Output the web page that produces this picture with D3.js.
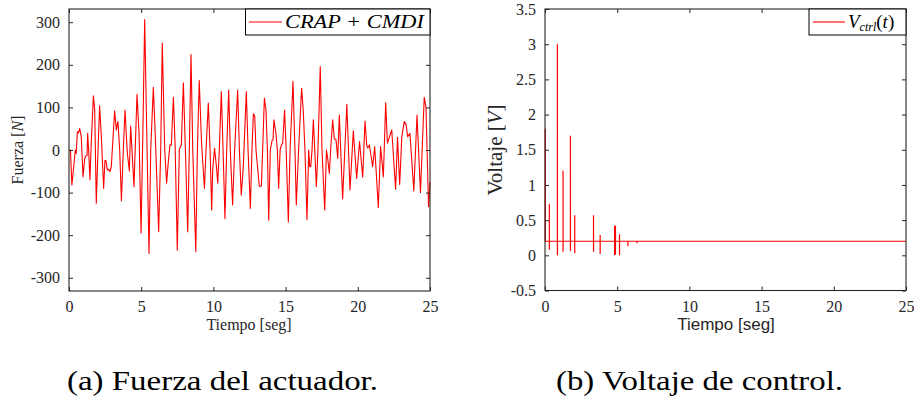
<!DOCTYPE html>
<html>
<head>
<meta charset="utf-8">
<script src="https://cdn.jsdelivr.net/npm/d3@7"></script>
<style>
	body { margin: 0; background: #fff; }
	svg { display: block; }
</style>
</head>
<body>
<svg id="chart" width="914" height="402"></svg>
<script>
// ---- data ----
// (a) actuator force [N] vs time [s]
var forceT = [0, 0.1, 0.2, 0.44, 0.5, 0.58, 0.66, 0.74, 0.85, 0.97, 1.09, 1.18, 1.25, 1.29, 1.36, 1.45, 1.54, 1.69, 1.78, 1.89,
	2.01, 2.12, 2.24, 2.40, 2.49, 2.56, 2.65, 2.75, 2.84, 2.93, 3.16, 3.28, 3.39, 3.51, 3.63, 3.76, 3.88, 3.97, 4.05, 4.18,
	4.27, 4.50, 4.71, 4.85, 4.99, 5.12, 5.24, 5.38, 5.54, 5.66, 5.84, 5.98, 6.21, 6.35, 6.46, 6.63, 6.76, 6.86, 6.99, 7.09,
	7.23, 7.35, 7.50, 7.64, 7.71, 7.78, 7.92, 8.06, 8.22, 8.34, 8.45, 8.57, 8.78, 8.89, 9.02, 9.18, 9.38, 9.49, 9.65, 9.77,
	9.88, 9.95, 10.08, 10.21, 10.30, 10.41, 10.55, 10.67, 10.80, 10.92, 11.06, 11.17, 11.33, 11.47, 11.68, 11.80, 11.93, 12.07, 12.28, 12.40,
	12.56, 12.67, 12.77, 12.86, 12.95, 13.18, 13.32, 13.41, 13.53, 13.64, 13.74, 13.83, 13.94, 14.06, 14.13, 14.19, 14.33, 14.43, 14.52, 14.62,
	14.71, 14.80, 14.93, 15.04, 15.19, 15.31, 15.51, 15.65, 15.74, 15.90, 16.11, 16.22, 16.34, 16.48, 16.60, 16.67, 16.74, 16.83, 16.92, 17.02,
	17.13, 17.24, 17.40, 17.52, 17.71, 17.83, 17.93, 18.03, 18.12, 18.26, 18.37, 18.49, 18.61, 18.72, 18.95, 19.24, 19.46, 19.69, 19.92, 20.12,
	20.34, 20.50, 20.62, 20.70, 20.80, 20.90, 21.03, 21.17, 21.42, 21.58, 21.77, 21.93, 22.05, 22.35, 22.62, 22.75, 22.90, 23.05, 23.22, 23.35,
	23.45, 23.61, 23.88, 24.10, 24.34, 24.60, 24.72, 24.90, 25];
var forceV = [0, 0, -82, 0, -8, 43, 40, 51, 31, -63, -20, -13, -13, 39, 0, -70, 16, 127, 94, -125,
	0, 104, 31, -90, -24, -25, -47, -45, -51, -39, 92, 47, 67, 0, -119, 0, 94, 35, -10, -50,
	56, -86, 131, 40, -195, 50, 306, 50, -243, 0, 147, 30, -192, 0, 251, 0, -78, -35, 12, 12,
	124, 10, -235, 0, 8, 12, 158, 0, -192, 16, 224, 0, -239, 0, 163, 16, -90, 0, 110, 0,
	-141, -47, 4, -39, -78, 0, 137, 0, -161, 0, 141, 0, -129, 0, 141, 0, -106, -39, 137, 0,
	-137, 0, 85, 80, 0, -85, -85, 0, 122, 94, 0, -165, 0, 22, 24, 71, 39, 0, -90, 0,
	12, 16, 94, 0, -169, 0, 161, 0, -129, 0, 145, 94, 0, -163, 0, -39, -39, 0, 71, 0,
	-86, 0, 196, 0, -141, 0, -24, -55, 0, 71, 27, 24, -20, 82, -115, 107, -94, 45, -67, 20,
	-64, 68, 10, 5, 12, -10, -39, 8, -135, 8, -63, 111, 16, 47, -92, 30, -81, 32, 67, 59,
	31, 39, -96, 82, -100, 124, 100, -133, -75];

// (b) control voltage [V]: constant level with short spikes (top / bottom of each spike)
var vBase = 0.2;
var spikeT  = [0.02, 0.30, 0.86, 1.25, 1.76, 2.06, 3.36, 3.82, 4.82, 4.88, 5.16, 5.74, 6.37];
var spikeHi = [1.80, 0.73, 3.00, 1.20, 1.70, 0.57, 0.57, 0.29, 0.42, 0.42, 0.30, 0.20, 0.20];
var spikeLo = [0.22, 0.08, 0.00, 0.05, 0.06, 0.03, 0.05, 0.02, 0.00, 0.01, 0.00, 0.13, 0.17];

var xTicks = [0, 5, 10, 15, 20, 25];
var forceTicks = [-300, -200, -100, 0, 100, 200, 300];
var voltTicks = [-0.5, 0, 0.5, 1, 1.5, 2, 2.5, 3, 3.5];

// ---- layout ----
var svg = d3.select("#chart");
var serif = "Liberation Serif";
var sans = "Liberation Sans";
var axisCol = "#262626";

// plain hyphen instead of the unicode minus d3 uses
function hy(f) { return function(d) { return f(d).replace("\u2212", "-"); }; }

function drawBox(g, x, y, ticksX, ticksY, fmtY) {
	var x0 = x.range()[0], x1 = x.range()[1];
	var y0 = y.range()[1], y1 = y.range()[0];
	var tl = 4;

	// ticks on all four sides, pointing in
	var bottom = g.append("g").attr("transform", "translate(0," + y1 + ")")
		.call(d3.axisBottom(x).tickValues(ticksX).tickSize(-tl).tickPadding(10).tickFormat(d3.format("d")));
	var top = g.append("g").attr("transform", "translate(0," + y0 + ")")
		.call(d3.axisTop(x).tickValues(ticksX).tickSize(-tl).tickFormat(""));
	var left = g.append("g").attr("transform", "translate(" + x0 + ",0)")
		.call(d3.axisLeft(y).tickValues(ticksY).tickSize(-tl).tickPadding(9).tickFormat(fmtY));
	var right = g.append("g").attr("transform", "translate(" + x1 + ",0)")
		.call(d3.axisRight(y).tickValues(ticksY).tickSize(-tl).tickFormat(""));

	[bottom, top, left, right].forEach(function(a) {
		a.attr("font-family", serif).attr("font-size", 16);
		a.select(".domain").remove();
		a.selectAll("line").attr("stroke", axisCol).attr("stroke-width", 1);
		a.selectAll("text").attr("fill", axisCol);
	});

	g.append("rect")
		.attr("x", x0).attr("y", y0)
		.attr("width", x1 - x0).attr("height", y1 - y0)
		.attr("fill", "none")
		.attr("stroke", axisCol)
		.attr("stroke-width", 1.1);
}

// ======== (a) Fuerza ========
var xa = d3.scaleLinear().domain([0, 25]).range([69, 430]);
var ya = d3.scaleLinear().domain([-331, 331]).range([291, 9]);
var ga = svg.append("g");

var forceData = forceT.map(function(t, i) { return [t, forceV[i]]; });
ga.append("path")
	.datum(forceData)
	.attr("fill", "none")
	.attr("stroke", "#ff0000")
	.attr("stroke-width", 1.1)
	.attr("stroke-linejoin", "round")
	.attr("d", d3.line().x(function(d) { return xa(d[0]); }).y(function(d) { return ya(d[1]); }));

drawBox(ga, xa, ya, xTicks, forceTicks, hy(d3.format("d")));

// axis labels
var lblA = ga.append("text")
	.attr("transform", "translate(23,150) rotate(-90)")
	.attr("text-anchor", "middle")
	.attr("font-family", serif).attr("font-size", 16).attr("fill", axisCol);
lblA.append("tspan").text("Fuerza [");
lblA.append("tspan").attr("font-style", "italic").text("N");
lblA.append("tspan").text("]");

ga.append("text")
	.attr("x", 249).attr("y", 330)
	.attr("text-anchor", "middle")
	.attr("font-family", serif).attr("font-size", 16).attr("fill", axisCol)
	.text("Tiempo [seg]");

// legend
ga.append("rect")
	.attr("x", 245.5).attr("y", 9)
	.attr("width", 430 - 245.5).attr("height", 26)
	.attr("fill", "#fff").attr("stroke", "#000").attr("stroke-width", 1);
ga.append("line")
	.attr("x1", 249).attr("x2", 282).attr("y1", 22).attr("y2", 22)
	.attr("stroke", "#ff0000").attr("stroke-width", 1.1);
ga.append("text")
	.attr("x", 285).attr("y", 28)
	.attr("font-family", serif).attr("font-size", 19).attr("font-style", "italic")
	.attr("textLength", 139).attr("lengthAdjust", "spacingAndGlyphs")
	.text("CRAP + CMDI");

// ======== (b) Voltaje ========
var xb = d3.scaleLinear().domain([0, 25]).range([545, 906]);
var yb = d3.scaleLinear().domain([-0.5, 3.5]).range([290.5, 9]);
var gb = svg.append("g");

// build the sampled signal: base level, jump to the top, drop to the bottom, back to base
var voltData = [[0, vBase]];
spikeT.forEach(function(t, i) {
	voltData.push([t, vBase]);
	voltData.push([t, spikeHi[i]]);
	voltData.push([t + 0.001, spikeLo[i]]);
	voltData.push([t + 0.002, vBase]);
});
voltData.push([25, vBase]);

gb.append("path")
	.datum(voltData)
	.attr("fill", "none")
	.attr("stroke", "#ff0000")
	.attr("stroke-width", 1.2)
	.attr("d", d3.line().x(function(d) { return xb(d[0]); }).y(function(d) { return yb(d[1]); }));

drawBox(gb, xb, yb, xTicks, voltTicks, hy(d3.format("")));

var lblB = gb.append("text")
	.attr("transform", "translate(502,150) rotate(-90)")
	.attr("text-anchor", "middle")
	.attr("font-family", serif).attr("font-size", 21).attr("fill", axisCol);
lblB.append("tspan").text("Voltaje [");
lblB.append("tspan").attr("font-style", "italic").text("V");
lblB.append("tspan").text("]");

gb.append("text")
	.attr("x", 726).attr("y", 330)
	.attr("text-anchor", "middle")
	.attr("font-family", sans).attr("font-size", 17).attr("fill", axisCol)
	.text("Tiempo [seg]");

gb.append("rect")
	.attr("x", 809).attr("y", 9)
	.attr("width", 906 - 809).attr("height", 26)
	.attr("fill", "#fff").attr("stroke", "#000").attr("stroke-width", 1);
gb.append("line")
	.attr("x1", 813).attr("x2", 845).attr("y1", 22).attr("y2", 22)
	.attr("stroke", "#ff0000").attr("stroke-width", 1.1);
var lg = gb.append("text")
	.attr("x", 848).attr("y", 28)
	.attr("font-family", serif).attr("font-size", 19);
lg.append("tspan").attr("font-style", "italic").text("V");
lg.append("tspan").attr("font-style", "italic").attr("font-size", 12).attr("dy", 3).text("ctrl");
lg.append("tspan").attr("dy", -3).text("(");
lg.append("tspan").attr("font-style", "italic").text("t");
lg.append("tspan").text(")");

// ======== captions ========
svg.append("text")
	.attr("x", 67).attr("y", 390)
	.attr("font-family", serif).attr("font-size", 28)
	.attr("textLength", 311).attr("lengthAdjust", "spacingAndGlyphs")
	.text("(a) Fuerza del actuador.");
svg.append("text")
	.attr("x", 556).attr("y", 390)
	.attr("font-family", serif).attr("font-size", 28)
	.attr("textLength", 287).attr("lengthAdjust", "spacingAndGlyphs")
	.text("(b) Voltaje de control.");
</script>
</body>
</html>
